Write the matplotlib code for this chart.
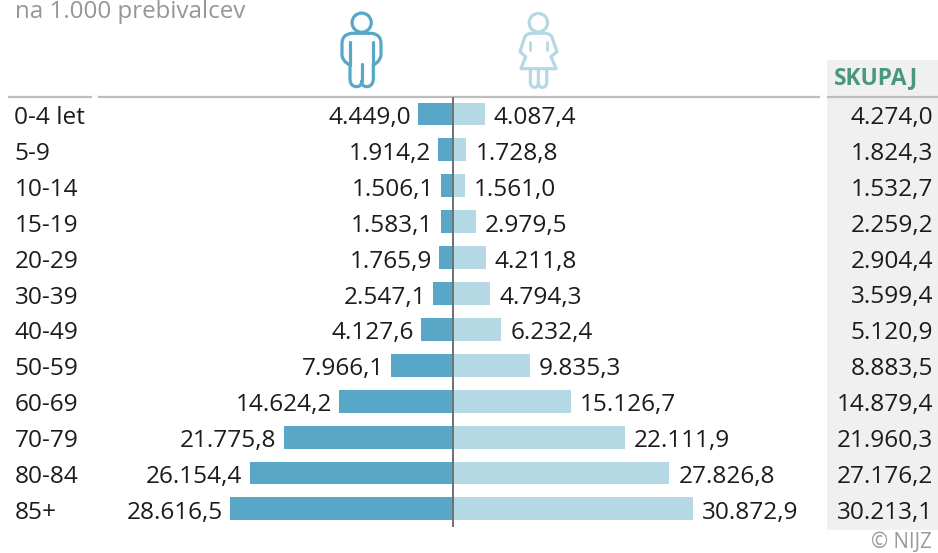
import matplotlib
matplotlib.use("Agg")
import matplotlib.pyplot as plt
from matplotlib.patches import Circle, PathPatch, Rectangle
from matplotlib.path import Path

plt.rcParams['font.family'] = ['Open Sans', 'DejaVu Sans']

categories = ['0-4 let', '5-9', '10-14', '15-19', '20-29', '30-39', '40-49',
              '50-59', '60-69', '70-79', '80-84', '85+']
men = [4449.0, 1914.2, 1506.1, 1583.1, 1765.9, 2547.1, 4127.6, 7966.1,
       14624.2, 21775.8, 26154.4, 28616.5]
women = [4087.4, 1728.8, 1561.0, 2979.5, 4211.8, 4794.3, 6232.4, 9835.3,
         15126.7, 22111.9, 27826.8, 30872.9]
total = [4274.0, 1824.3, 1532.7, 2259.2, 2904.4, 3599.4, 5120.9, 8883.5,
         14879.4, 21960.3, 27176.2, 30213.1]
title_text = 'na 1.000 prebivalcev'
total_header = 'SKUPAJ'
credit = '© NIJZ'

W, H = 938, 553
BLUE, LIGHT = '#58a7c6', '#b5d8e5'
TEXT = '#1c1c1c'
FS = 17.6


def fmt(v):
    s = f'{v:,.1f}'
    return s.replace(',', ' ').replace('.', ',').replace(' ', '.')


fig = plt.figure(figsize=(W / 100, H / 100), dpi=100, facecolor='white')

# pixel overlay for furniture
ov = fig.add_axes([0, 0, 1, 1], zorder=1)
ov.set_xlim(0, W)
ov.set_ylim(H, 0)
ov.axis('off')

ov.add_patch(Rectangle((827, 60), 111, 470, fc='#f0f0f0', ec='none', zorder=0))
for x0, x1 in [(8, 92), (98, 820), (827, 938)]:
    ov.plot([x0, x1], [97, 97], color='#bdbdbd', lw=1.6, solid_capstyle='butt', zorder=1)

ov.text(15, 18, title_text, color='#969696', fontsize=FS - 0.2, ha='left', va='baseline')
ov.text(834, 84, total_header, color='#4a9680', fontsize=16.4, fontweight='bold',
        ha='left', va='baseline')
ov.text(932, 548.5, credit, color='#9a9a9a', fontsize=14.8, ha='right', va='baseline')

# bars
PX = 0.00778
CX = 453
x0_px, x1_px = 98, 820
top, bottom = 97, 527
step = 35.9
first = 114
ax = fig.add_axes([x0_px / W, 1 - bottom / H, (x1_px - x0_px) / W, (bottom - top) / H], zorder=2)
ax.set_xlim((x0_px - CX) / PX, (x1_px - CX) / PX)
ax.set_ylim((bottom - first) / step, (top - first) / step)
ax.axis('off')
ax.patch.set_alpha(0)
ys = list(range(len(categories)))
ax.barh(ys, [-m for m in men], height=0.64, color=BLUE, linewidth=0)
ax.barh(ys, women, height=0.64, color=LIGHT, linewidth=0)
ax.axvline(0, color='#6f6f6f', lw=1.4, zorder=5)
for y, m, w, c, t in zip(ys, men, women, categories, total):
    ax.annotate(fmt(m), (-m, y), xytext=(-5.2, -2.9), textcoords='offset points', ha='right',
                va='center', fontsize=FS, color=TEXT, annotation_clip=False)
    ax.annotate(fmt(w), (w, y), xytext=(6.4, -2.9), textcoords='offset points', ha='left',
                va='center', fontsize=FS, color=TEXT, annotation_clip=False)
    py = first + y * step + 4
    ov.text(14.5, py, c, ha='left', va='center', fontsize=FS, color=TEXT)
    ov.text(933, py, fmt(t), ha='right', va='center', fontsize=FS, color=TEXT)


def z(x, y):
    return (320 + x / 3, y / 3)


def outline(points, color, lw=2.3):
    verts, codes = [], []
    for i, item in enumerate(points):
        if item[0] == 'M':
            verts.append(z(*item[1])); codes.append(Path.MOVETO)
        elif item[0] == 'L':
            verts.append(z(*item[1])); codes.append(Path.LINETO)
        else:
            verts += [z(*item[1]), z(*item[2])]; codes += [Path.CURVE3, Path.CURVE3]
    ov.add_patch(PathPatch(Path(verts, codes), fc='none', ec=color, lw=lw, capstyle='round',
                           joinstyle='round', zorder=3))


# man icon
ov.add_patch(Circle(z(125, 68), 9.6, fc='none', ec=BLUE, lw=2.3))
outline([('M', (95, 100)), ('L', (155, 100)), ('Q', (183, 103), (183, 130)),
         ('L', (183, 165)), ('Q', (180, 185), (160, 195)), ('L', (160, 238)),
         ('Q', (158, 260), (140, 260)), ('Q', (125, 260), (125, 243)),
         ('Q', (125, 260), (110, 260)), ('Q', (91, 260), (90, 238)), ('L', (90, 195)),
         ('Q', (68, 185), (66, 165)), ('L', (66, 130)), ('Q', (66, 103), (95, 100))], BLUE)
outline([('M', (90, 127)), ('L', (90, 195))], BLUE)
outline([('M', (160, 127)), ('L', (160, 195))], BLUE)
outline([('M', (125, 192)), ('L', (125, 243))], BLUE)

# woman icon
ov.add_patch(Circle(z(655, 68), 9.2, fc='none', ec=LIGHT, lw=2.3))
outline([('M', (632, 100)), ('L', (678, 100)), ('Q', (695, 102), (698, 118)),
         ('L', (711, 155)), ('L', (693, 170)), ('L', (708, 206)), ('L', (603, 206)),
         ('L', (617, 170)), ('L', (600, 155)), ('L', (612, 118)),
         ('Q', (615, 102), (632, 100))], LIGHT)
outline([('M', (631, 206)), ('L', (631, 248)), ('Q', (632, 262), (644, 262)),
         ('Q', (655, 262), (655, 248)), ('L', (655, 206))], LIGHT)
outline([('M', (655, 248)), ('Q', (655, 262), (667, 262)), ('Q', (679, 262), (680, 248)),
         ('L', (680, 206))], LIGHT)
outline([('M', (630, 125)), ('L', (630, 150))], LIGHT, 2.0)
outline([('M', (682, 125)), ('L', (682, 150))], LIGHT, 2.0)

fig.savefig('out.png', dpi=100)
